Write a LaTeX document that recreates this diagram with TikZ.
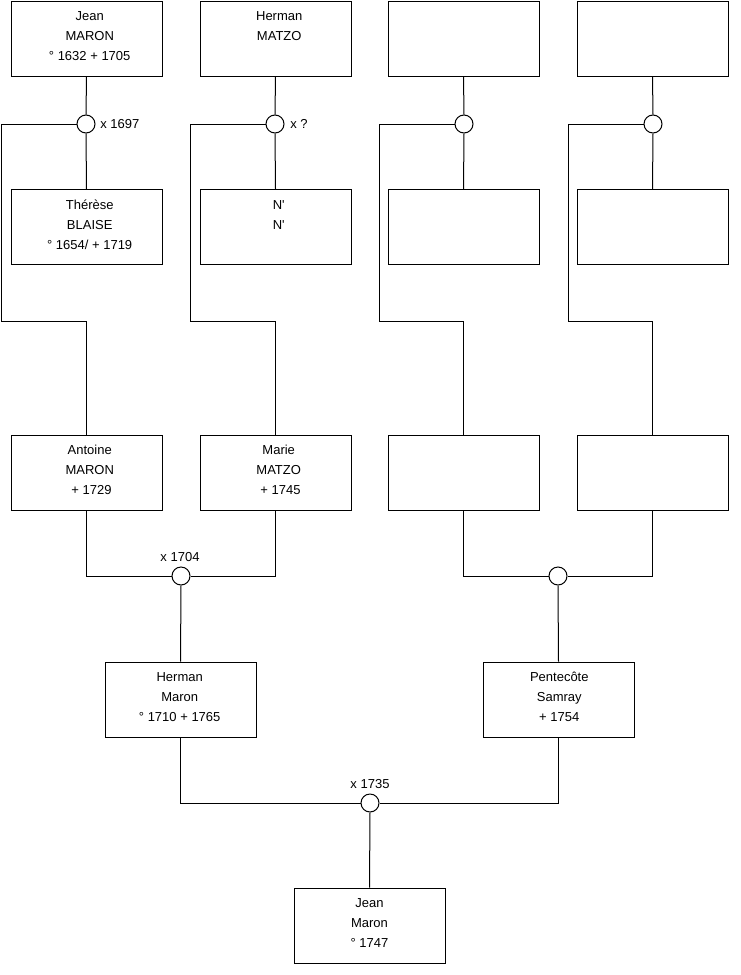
\documentclass[tikz,border=0pt]{standalone}
\usepackage{fontspec}
\setmainfont{Liberation Sans}
\newfontfamily\plainsans{Liberation Sans}
\begin{document}
\begin{tikzpicture}[x=0.75pt,y=-0.75pt,
  person/.style={draw=black,line width=0.75pt,fill=white,minimum width=113.25pt,minimum height=56.25pt,inner sep=0pt},
  ptext/.style={inner sep=0pt,align=center,font=\plainsans\fontsize{9.75}{15}\selectfont},
  junc/.style={draw=black,line width=0.75pt,fill=white,circle,minimum size=13.5pt,inner sep=0pt},
  lbl/.style={font=\fontsize{9.75}{11}\selectfont,inner sep=0pt},
  link/.style={draw=black,line width=0.75pt}]
\useasboundingbox (0,0) rectangle (740,975);
% row 1
\node[person] (a1) at (86.5,38.5) {};
\node[person] (b1) at (275.5,38.5) {};
\node[person] (c1) at (463.5,38.5) {};
\node[person] (d1) at (652.5,38.5) {};
% row 2
\node[person] (a2) at (86.5,227) {};
\node[person] (b2) at (275.5,227) {};
\node[person] (c2) at (463.5,227) {};
\node[person] (d2) at (652.5,227) {};
% row 3
\node[person] (a3) at (86.5,472.5) {};
\node[person] (b3) at (275.5,472.5) {};
\node[person] (c3) at (463.5,472.5) {};
\node[person] (d3) at (652.5,472.5) {};
% row 4
\node[person] (a4) at (180.5,699.5) {};
\node[person] (b4) at (558.5,699.5) {};
% row 5
\node[person] (a5) at (369.5,925.5) {};
% texts
\node[ptext] (a1t) at ([xshift=2.4pt,yshift=1.8pt]a1.center) {Jean\\MARON\\° 1632 + 1705};
\node[ptext] (b1t) at ([xshift=2.8pt,yshift=1.8pt]b1.center) {Herman\\MATZO\\\mbox{}};
\node[ptext] (a2t) at ([xshift=2.4pt,yshift=1.8pt]a2.center) {Thérèse\\BLAISE\\° 1654/ + 1719};
\node[ptext] (b2t) at ([xshift=2.4pt,yshift=1.8pt]b2.center) {N'\\N'\\\mbox{}};
\node[ptext] (a3t) at ([xshift=2.4pt,yshift=1.8pt]a3.center) {Antoine\\MARON\\\mbox{} + 1729};
\node[ptext] (b3t) at ([xshift=2.4pt,yshift=1.8pt]b3.center) {Marie\\MATZO\\\mbox{} + 1745};
\node[ptext] (a4t) at ([xshift=-0.6pt,yshift=1.8pt]a4.center) {Herman\\Maron\\° 1710 + 1765};
\node[ptext] (b4t) at ([xshift=0.6pt,yshift=1.8pt]b4.center) {Pentecôte\\Samray\\ + 1754};
\node[ptext] (a5t) at ([yshift=1.8pt]a5.center) {Jean\\Maron\\° 1747};
% junctions
\node[junc] (j1) at (86,124) {};
\node[junc] (j2) at (275,124) {};
\node[junc] (j3) at (464,124) {};
\node[junc] (j4) at (653,124) {};
\node[junc] (j5) at (181,576) {};
\node[junc] (j6) at (558,576) {};
\node[junc] (j7) at (370,803) {};
% labels
\node[lbl,anchor=west] (l1) at (100,124) {x 1697};
\node[lbl,anchor=west] (l2) at (290,124) {x ?};
\node[lbl,anchor=center] (l5) at (180,557) {x 1704};
\node[lbl,anchor=center] (l7) at (370,784) {x 1735};
% corner coordinates
\coordinate (k1) at (1,321);
\coordinate (k2) at (190,321);
\coordinate (k3) at (379,321);
\coordinate (k4) at (568,321);
% links
\foreach \u/\j/\v/\k/\w in {a1/j1/a2/k1/a3, b1/j2/b2/k2/b3, c1/j3/c2/k3/c3, d1/j4/d2/k4/d3}{
  \draw[link] (\u.south) -- (\j.north);
  \draw[link] (\j.south) -- (\v.north);
  \draw[link] (\j.west) -| (\k) -| (\w.north);
}
\draw[link] (a3.south) |- (j5.west);
\draw[link] (b3.south) |- (j5.east);
\draw[link] (j5.south) -- (a4.north);
\draw[link] (c3.south) |- (j6.west);
\draw[link] (d3.south) |- (j6.east);
\draw[link] (j6.south) -- (b4.north);
\draw[link] (a4.south) |- (j7.west);
\draw[link] (b4.south) |- (j7.east);
\draw[link] (j7.south) -- (a5.north);
\end{tikzpicture}
\end{document}
